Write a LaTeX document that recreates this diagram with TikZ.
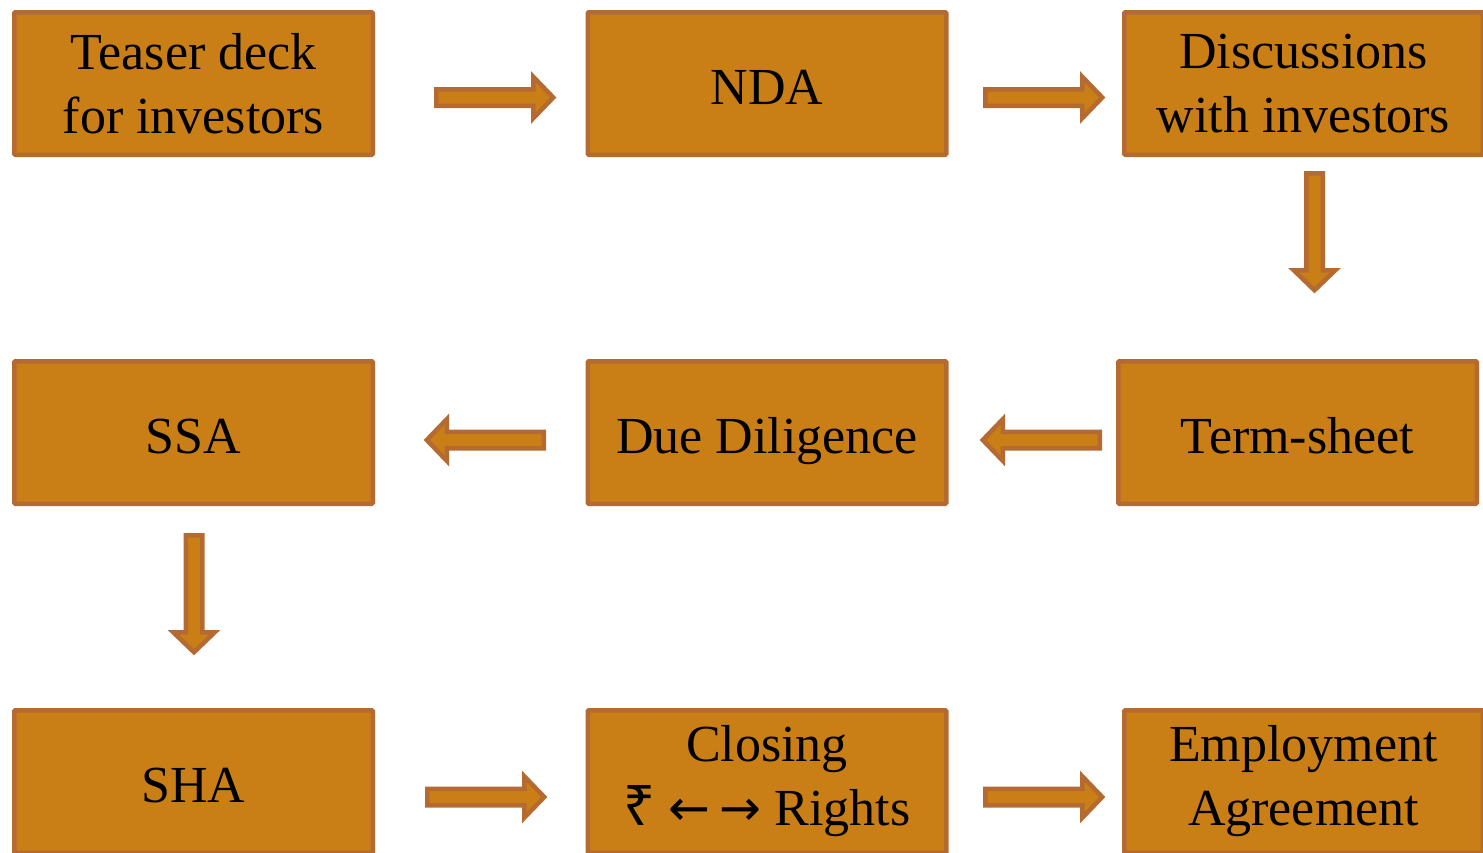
\documentclass[tikz,border=0pt]{standalone}
\usepackage{fontspec}
\setmainfont{Liberation Serif}
\newfontfamily\rupeefont{Noto Sans}
\newfontfamily\arrowfont{DejaVu Sans}
\definecolor{boxfill}{HTML}{C97F16}
\definecolor{boxline}{HTML}{B56A32}
\begin{document}
\begin{tikzpicture}[x=1pt,y=-1pt,
  stepbox/.style={draw=boxline, fill=boxfill, line width=4.5pt, rounded corners=1pt,
    minimum width=358.5pt, minimum height=142.5pt, inner sep=0pt, align=center,
    font=\fontsize{52}{64}\selectfont},
  oneline/.style={text height=42pt, text depth=0pt},
  blk/.style={draw=boxline, fill=boxfill, line width=4.5pt, line join=miter},
  rarrow/.pic={\draw[blk] (0,-8.25) -- (97,-8.25) -- (97,-20.75) -- (117,0) -- (97,20.75) -- (97,8.25) -- (0,8.25) -- cycle;}
]
\useasboundingbox (0,0) rectangle (1483,852);
% row 1
\node[stepbox] (teaser) at (193.5,83.5) {Teaser deck\\for investors};
\node[stepbox, oneline] (nda) at (767,83.5) {NDA};
\node[stepbox] (disc) at (1303.5,83.5) {Discussions\\with investors};
% row 2
\node[stepbox, oneline] (ssa) at (193.5,432.5) {SSA};
\node[stepbox, oneline] (dd) at (767,432.5) {Due Diligence};
\node[stepbox, oneline] (term) at (1297.5,432.5) {Term-sheet};
% row 3
\node[stepbox, oneline] (sha) at (193.5,781.5) {SHA};
\node[stepbox] (closing) at (767,781.5) {Closing\\{\rupeefont\fontsize{56}{64}\selectfont ₹} {\arrowfont\fontsize{50}{64}\selectfont ←\kern9pt→} Rights};
\node[stepbox] (emp) at (1303.5,781.5) {Employment\\Agreement};
% block arrows
\pic at (436.25,97.5) {rarrow};
\pic at (985.25,97.5) {rarrow};
\pic[rotate=-90] at (1314.5,173.25) {rarrow};
\pic[rotate=180] at (543.75,440) {rarrow};
\pic[rotate=180] at (1099.75,440) {rarrow};
\pic[rotate=-90] at (194,535.25) {rarrow};
\pic at (427.25,797) {rarrow};
\pic at (985.25,797) {rarrow};
\end{tikzpicture}
\end{document}
